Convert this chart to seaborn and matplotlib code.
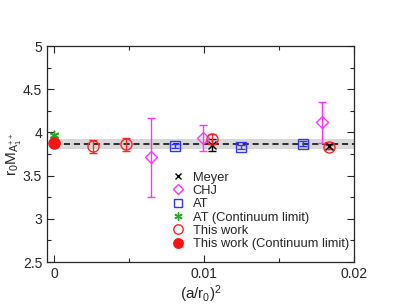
import numpy as np
import pandas as pd
import seaborn as sns
from matplotlib import pyplot as plt

# data
meyer_x = [0.0105, 0.01835]
meyer_y = [3.85, 3.84]
meyer_err = [0.07, 0.03]

chj_x = [0.00647, 0.00995, 0.01785]
chj_y = [3.71, 3.93, 4.115]
chj_err = [0.46, 0.15, 0.235]

at_x = [0.00807, 0.01245, 0.01658]
at_y = [3.845, 3.83, 3.87]
at_err = [0.02, 0.02, 0.03]

atc_x = [0.0]
atc_y = [3.965]
atc_err = [0.02]

tw_x = [0.00258, 0.00475, 0.0105, 0.01835]
tw_y = [3.837, 3.86, 3.92, 3.83]
tw_err = [0.07, 0.07, 0.06, 0.02]

twc_x = [0.0]
twc_y = [3.872]
twc_err = [0.03]

fit_x = [0.0, 0.02]
fit_y = [3.866, 3.866]
fit_band = 0.06

sns.set_style("ticks")
plt.rcParams["font.family"] = ["Liberation Sans", "DejaVu Sans"]
plt.rcParams["mathtext.fontset"] = "custom"
plt.rcParams["mathtext.rm"] = "Liberation Sans"
plt.rcParams["mathtext.it"] = "Liberation Sans"

fig = plt.figure(figsize=(3.99, 3.08), dpi=100)
ax = fig.add_axes([47 / 399, 1 - 262 / 308, 307 / 399, 216 / 308])

# fit band + dashed fit line
ax.fill_between(fit_x, np.array(fit_y) - fit_band, np.array(fit_y) + fit_band,
                color="#d9d9d9", lw=0, zorder=1)
fit_df = pd.DataFrame({"x": fit_x, "y": fit_y})
sns.lineplot(data=fit_df, x="x", y="y", ax=ax, color="black", ls=(0, (4, 2.5)),
             lw=1.1, zorder=2)

series = [
    (meyer_x, meyer_y, meyer_err, "x", "black", "none", 5.5, "Meyer"),
    (chj_x, chj_y, chj_err, "D", "#ff33ff", "none", 6, "CHJ"),
    (at_x, at_y, at_err, "s", "#3333ff", "none", 6.5, "AT"),
    (atc_x, atc_y, atc_err, (6, 2, 0), "#22aa22", "none", 7, "AT (Continuum limit)"),
    (tw_x, tw_y, tw_err, "o", "#ff2222", "none", 8, "This work"),
    (twc_x, twc_y, twc_err, "o", "#ff1111", "#ff1111", 8, "This work (Continuum limit)"),
]

for x, y, e, m, c, fc, ms, lab in series:
    ax.errorbar(x, y, yerr=e, fmt="none", ecolor=c, elinewidth=1, capsize=3,
                capthick=1, zorder=3)
    ax.plot(x, y, ls="none", marker=m, mec=c, mfc=fc, ms=ms, mew=1,
            label=lab, zorder=4)

ax.set_xlim(-0.0005, 0.02)
ax.set_ylim(2.5, 5)
ax.set_xticks([0, 0.01, 0.02])
ax.set_xticklabels(["0", "0.01", "0.02"])
ax.set_xticks([0.005, 0.015], minor=True)
ax.set_yticks([2.5, 3, 3.5, 4, 4.5, 5])
ax.set_yticklabels(["2.5", "3", "3.5", "4", "4.5", "5"])
ax.set_yticks(np.arange(2.75, 5, 0.5), minor=True)
ax.tick_params(which="both", direction="in", top=True, right=True, labelsize=10,
               width=0.8)
ax.tick_params(which="major", length=5)
ax.tick_params(which="minor", length=3)
for s in ax.spines.values():
    s.set_linewidth(0.9)

ax.set_xlabel(r"$(a/r_0)^2$", fontsize=11, labelpad=2)
ax.set_ylabel(r"$r_0M_{A_1^{++}}$", fontsize=11, labelpad=-1)

ax.legend(loc="lower right", frameon=False, fontsize=9.3, handlelength=0.8,
          handletextpad=0.7, labelspacing=0.1, borderaxespad=0.0,
          bbox_to_anchor=(1.0, 0.03), markerscale=0.85)

fig.savefig("out.png", dpi=100)
